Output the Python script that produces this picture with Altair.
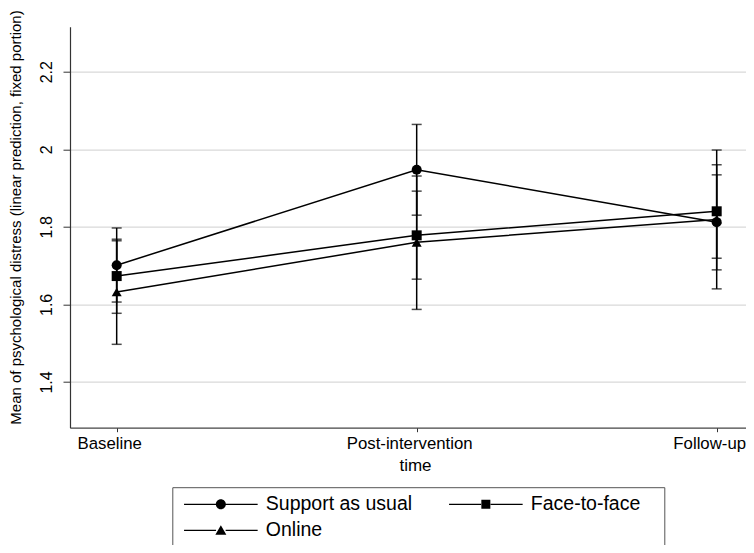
import json
import altair as alt
import pandas as pd

# ---- data ----
times = ["Baseline", "Post-intervention", "Follow-up"]
groups = ["Support as usual", "Face-to-face", "Online"]

support_mean = [1.701, 1.947, 1.812]
support_lo = [1.606, 1.830, 1.689]
support_hi = [1.797, 2.064, 1.934]

face_mean = [1.673, 1.778, 1.840]
face_lo = [1.577, 1.665, 1.719]
face_hi = [1.768, 1.892, 1.960]

online_mean = [1.632, 1.760, 1.819]
online_lo = [1.497, 1.587, 1.640]
online_hi = [1.764, 1.931, 1.998]

y_ticks = [1.4, 1.6, 1.8, 2.0, 2.2]

rows = []
for g, ms, los, his in zip(groups,
                           [support_mean, face_mean, online_mean],
                           [support_lo, face_lo, online_lo],
                           [support_hi, face_hi, online_hi]):
    for i, (t, m, lo, hi) in enumerate(zip(times, ms, los, his)):
        rows.append({"xi": i, "time": t, "group": g,
                     "mean": m, "lo": lo, "hi": hi})
df = pd.DataFrame(rows)

FONT = "Liberation Sans"

x_axis = alt.Axis(
    title="time", titleFont=FONT, titleFontSize=17, titleFontWeight="normal",
    titleColor="black", titleX=345, titleY=42.3, titleBaseline="alphabetic",
    titleAlign="center",
    values=list(range(len(times))),
    labelExpr=f"{json.dumps(times)}[datum.value]",
    labelFont=FONT, labelFontSize=16.8, labelColor="black", labelOffset=-7.5,
    labelPadding=4, tickSize=4, tickColor="#333", domainColor="#444",
    domainWidth=1.2, grid=False, labelAngle=0, labelBaseline="top",
    labelAlign="center",
)
y_axis = alt.Axis(
    title="Mean of psychological distress (linear prediction, fixed portion)",
    titleFont=FONT, titleFontSize=15, titleFontWeight="normal",
    titleColor="black", titleAngle=270, titleX=-50, titleY=190.3,
    titleAlign="center", titleBaseline="alphabetic",
    values=y_ticks, format="~g",
    labelFont=FONT, labelFontSize=16, labelColor="black", labelAngle=270,
    labelAlign="center", labelBaseline="alphabetic", labelPadding=11.3,
    tickSize=7, tickColor="#333", domainColor="#333", domainWidth=1.2,
    grid=True, gridColor="#d9d9d9", gridWidth=1.2,
)

x_scale = alt.Scale(domain=[-0.1556, 2.0977], nice=False, zero=False)
x_enc = alt.X("xi:Q", scale=x_scale, axis=x_axis)
y_scale = alt.Scale(domain=[1.282, 2.316], nice=False, zero=False)

base = alt.Chart(df)

lines = base.mark_line(color="black", strokeWidth=1.5).encode(
    x=x_enc,
    y=alt.Y("mean:Q", scale=y_scale, axis=y_axis),
    detail="group:N",
)

bars = base.mark_rule(color="black", strokeWidth=1.5).encode(
    x=x_enc,
    y=alt.Y("lo:Q", scale=y_scale, axis=y_axis),
    y2="hi:Q",
)

caps_lo = base.mark_tick(color="black", orient="horizontal", size=10,
                         thickness=1.5).encode(
    x=x_enc, y=alt.Y("lo:Q", scale=y_scale, axis=y_axis))
caps_hi = base.mark_tick(color="black", orient="horizontal", size=10,
                         thickness=1.5).encode(
    x=x_enc, y=alt.Y("hi:Q", scale=y_scale, axis=y_axis))

points = base.mark_point(filled=True, color="black", opacity=1,
                         size=100).encode(
    x=x_enc,
    y=alt.Y("mean:Q", scale=y_scale, axis=y_axis),
    shape=alt.Shape("group:N",
                    scale=alt.Scale(domain=groups,
                                    range=["circle", "square", "triangle-up"]),
                    legend=None),
)

# legend keys: a thin bar on each side of the marker (unit = 5 px)
LINE = "M-1,-0.12H5.4V0.12H-1ZM7.32,-0.12H13.72V0.12H7.32Z"
legend_paths = [
    LINE + "M5.36,0A1,1,0,1,1,7.36,0A1,1,0,1,1,5.36,0Z",
    LINE + "M5.46,-0.9H7.26V0.9H5.46ZM40,0L40,0",
    LINE + "M5.26,0.85L6.36,-1.05L7.46,0.85Z",
]

legend_layer = base.transform_filter("false").mark_point(
    filled=True, color="black").encode(
    x=x_enc,
    y=alt.Y("mean:Q", scale=y_scale, axis=y_axis),
    shape=alt.Shape(
        "group:N",
        scale=alt.Scale(domain=groups, range=legend_paths),
        legend=alt.Legend(
            title=None, orient="none", legendX=102.3, legendY=460.5,
            direction="horizontal", columns=2,
            labelFont=FONT, labelFontSize=19.5, labelColor="black",
            symbolSize=100, symbolFillColor="black", symbolOpacity=1,
            padding=7, strokeColor="#555", labelOffset=67,
            columnPadding=32, rowPadding=5.5, labelLimit=300,
        ),
    ),
)

chart = alt.layer(lines, bars, caps_lo, caps_hi, points, legend_layer).resolve_scale(
    shape="independent"
).properties(
    width=676, height=401,
    autosize=alt.AutoSizeParams(type="none"),
    padding={"left": 62, "top": 18.7, "right": 0, "bottom": 117.3},
    background="white",
).configure_view(stroke=None)

chart.save("out.html", embed_options={"renderer": "svg", "actions": False})
